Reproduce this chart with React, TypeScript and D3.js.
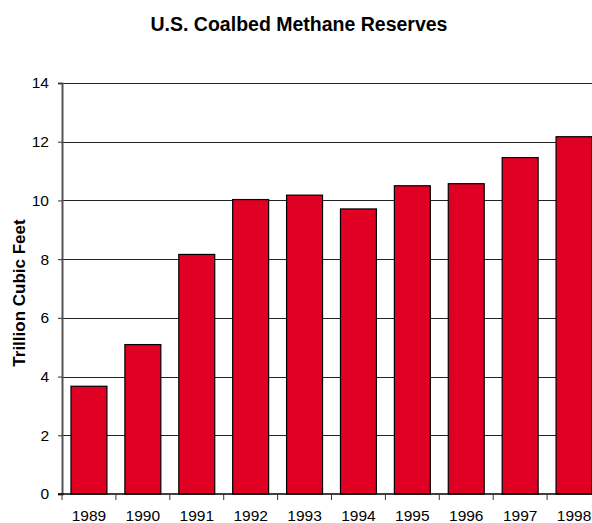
import React, { useRef, useEffect } from "react";
import { select, scaleBand, scaleLinear, axisLeft, axisBottom } from "d3";

const years = ["1989", "1990", "1991", "1992", "1993", "1994", "1995", "1996", "1997", "1998"];
const reserves = [3.67, 5.09, 8.16, 10.03, 10.18, 9.71, 10.5, 10.57, 11.46, 12.17];
const yTicks = [0, 2, 4, 6, 8, 10, 12, 14];

const width = 592;
const height = 523;

const App: React.FC = () => {
  const svgRef = useRef<SVGSVGElement>(null);

  useEffect(() => {
    const svg = select(svgRef.current);
    svg.selectAll("*").remove();

    const left = 62;
    const step = 53.9;
    // plot runs past the right edge, last band is clipped
    const xScale = scaleBand<string>()
      .domain(years)
      .range([left, left + step * years.length])
      .paddingInner(0.333)
      .paddingOuter(0.1667);
    const yScale = scaleLinear().domain([0, 14]).range([494, 83]);

    svg
      .append("text")
      .attr("x", 299)
      .attr("y", 31)
      .attr("text-anchor", "middle")
      .attr("font-family", "Liberation Sans, Arial, sans-serif")
      .attr("font-weight", "bold")
      .attr("font-size", 19.5)
      .text("U.S. Coalbed Methane Reserves");

    svg
      .append("text")
      .attr("transform", `translate(25,293) rotate(-90)`)
      .attr("text-anchor", "middle")
      .attr("font-family", "Liberation Sans, Arial, sans-serif")
      .attr("font-weight", "bold")
      .attr("font-size", 17)
      .text("Trillion Cubic Feet");

    // gridlines
    svg
      .append("g")
      .selectAll("line")
      .data(yTicks.slice(1))
      .join("line")
      .attr("x1", left)
      .attr("x2", width)
      .attr("y1", (d) => Math.round(yScale(d)) + 0.5)
      .attr("y2", (d) => Math.round(yScale(d)) + 0.5)
      .attr("stroke", "#222")
      .attr("stroke-width", 1);

    // bars
    svg
      .append("g")
      .selectAll("rect")
      .data(reserves)
      .join("rect")
      .attr("x", (_, i) => xScale(years[i])!)
      .attr("y", (d) => yScale(d))
      .attr("width", xScale.bandwidth())
      .attr("height", (d) => yScale(0) - yScale(d))
      .attr("fill", "#E00024")
      .attr("stroke", "#000")
      .attr("stroke-width", 1.2);

    const yAxis = axisLeft(yScale).tickValues(yTicks).tickSize(4).tickPadding(9);
    const yg = svg.append("g").attr("transform", `translate(${left},0)`).call(yAxis);
    yg.select(".domain").attr("stroke", "#555").attr("stroke-width", 2);
    yg.selectAll(".tick line").attr("stroke", "#333");
    yg.selectAll(".tick text")
      .attr("font-family", "Liberation Sans, Arial, sans-serif")
      .attr("font-size", 15.5)
      .attr("fill", "#000");

    // x axis line with ticks at band boundaries
    const xg = svg.append("g");
    xg.append("line")
      .attr("x1", left - 4)
      .attr("x2", width)
      .attr("y1", yScale(0))
      .attr("y2", yScale(0))
      .attr("stroke", "#000")
      .attr("stroke-width", 1.5);
    xg.selectAll("line.tk")
      .data(years)
      .join("line")
      .attr("class", "tk")
      .attr("x1", (d) => xScale(d)! - (xScale.step() * xScale.paddingInner()) / 2)
      .attr("x2", (d) => xScale(d)! - (xScale.step() * xScale.paddingInner()) / 2)
      .attr("y1", yScale(0))
      .attr("y2", yScale(0) + 6)
      .attr("stroke", "#333");

    const xAxis = axisBottom(xScale).tickSize(0).tickPadding(16);
    const xa = svg.append("g").attr("transform", `translate(0,${yScale(0)})`).call(xAxis);
    xa.select(".domain").remove();
    xa.selectAll(".tick text")
      .attr("font-family", "Liberation Sans, Arial, sans-serif")
      .attr("font-size", 15.5)
      .attr("fill", "#000");
  }, []);

  return (
    <svg
      ref={svgRef}
      width={width}
      height={height}
      style={{ position: "absolute", left: 0, top: 0, background: "#fff" }}
    />
  );
};

export default App;
